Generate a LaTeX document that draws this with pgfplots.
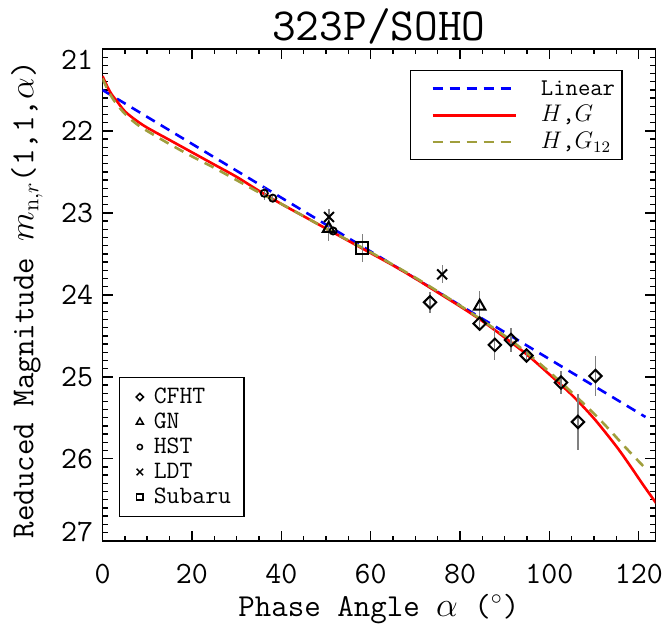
\documentclass[border=0pt]{standalone}
\usepackage{fontspec}
\usepackage{pgfplots}
\usepackage{pgfplotstable}
\pgfplotsset{compat=1.18}
\usetikzlibrary{calc}
\renewcommand{\familydefault}{\ttdefault}
\definecolor{olivec}{RGB}{160,158,60}
\newcommand\tickfont{\fontsize{15.5}{17}\selectfont\ttfamily}
\newcommand\labfont{\fontsize{16}{19}\selectfont\ttfamily}
\newcommand\titfont{\fontsize{23}{27}\selectfont\ttfamily}
\newcommand\legfontA{\fontsize{12}{14}\selectfont\ttfamily}
\newcommand\legfontB{\fontsize{12.5}{14}\selectfont\ttfamily}

\pgfplotstableread{
x y ey
73.3 24.09 0.13
84.4 24.35 0.07
87.8 24.61 0.19
91.4 24.55 0.15
94.9 24.74 0.06
102.6 25.07 0.14
106.4 25.55 0.34
110.3 24.99 0.24
}\cfht
\pgfplotstableread{
x y ey
50.6 23.19 0.15
84.4 24.14 0.19
}\gn
\pgfplotstableread{
x y ey
36.2 22.76 0.08
38.1 22.82 0.05
51.6 23.22 0.05
}\hst
\pgfplotstableread{
x y ey
50.7 23.05 0.10
76.0 23.75 0.11
}\ldt
\pgfplotstableread{
x y ey
58.1 23.43 0.17
}\subaru

\pgfplotsset{base/.style={
  width=276.4pt, height=245.85pt, scale only axis,
  xmin=0, xmax=123.7, ymin=21, ymax=27, y dir=reverse,
  xtick={0,20,...,120}, ytick={21,22,...,27},
  minor x tick num=3, minor y tick num=9,
  major tick length=5pt, minor tick length=2.5pt,
  tick style={line width=0.7pt, black},
  axis line style={line width=0.8pt},
  tick align=inside,
  /pgf/number format/assume math mode=true,
  ticklabel style={font=\tickfont},
  clip=true,
},
legmark/.style={legend image code/.code={\path (-4.85pt,0pt) (3pt,0pt);
  \draw[##1, mark size=#1, every mark/.append style={line width=0.75pt}] plot coordinates {(0pt,0pt)};}},
ebar/.style={error bars/.cd, y dir=both, y explicit, error mark=none,
  error bar style={gray, line width=0.6pt}},
}

\begin{document}
\begin{tikzpicture}
\begin{axis}[base, name=main,
  every axis title shift=0pt,
  title={323P/SOHO},
  title style={at={(axis description cs:0.5,1.0183)}, anchor=base, font=\titfont},
  xlabel={Phase Angle $\alpha$ ($^\circ$)},
  ylabel={Reduced Magnitude $m_{\mathrm{n},r}$(1,1,$\alpha$)},
  label style={font=\labfont},
  xlabel style={at={(axis description cs:0.5,-0.1546)}, anchor=base},
  ylabel style={at={(axis description cs:-0.1252,0.49)}, anchor=base},
  yticklabels={\smash{\raisebox{-10pt}{21}},22,23,24,25,26,\smash{\raisebox{-0.5pt}{27}}},
  yticklabel style={anchor=east, xshift=-1.2pt},
  xticklabel style={anchor=base, yshift=-21.2pt},
  legend style={at={(axis description cs:0.941,0.957)}, anchor=north east,
    draw=black, line width=0.6pt, font=\legfontA, inner xsep=2pt, inner ysep=2.2pt,
    row sep=0pt, nodes={inner sep=1.5pt, text height=8.5pt, text depth=1.85pt},
    /tikz/every odd column/.append style={column sep=10.5pt}},
  legend cell align=left,
  legend image code/.code={\path (-8.5pt,0pt) (0pt,0pt); \draw[#1] (0pt,0pt) -- (41.5pt,0pt);},
]
\addplot[blue, line width=1.3pt, dash pattern=on 5pt off 3.5pt] coordinates {(0,21.50) (121.5,25.49)};
\addlegendentry{\legfontA Linear}
\addplot[red, line width=1.3pt, smooth] coordinates {
(0,21.33) (1,21.45) (2,21.55) (3,21.62) (5,21.76) (7.5,21.87) (10,21.96) (15,22.11)
(20,22.26) (25,22.41) (30,22.56) (35,22.73) (40,22.89) (45,23.04) (50,23.19)
(55,23.34) (60,23.49) (65,23.64) (70,23.80) (75,23.97) (80,24.14) (85,24.32)
(90,24.52) (95,24.73) (100,24.97) (105,25.22) (110,25.51) (115,25.85) (118,26.08)
(121,26.32) (124,26.55)};
\addlegendentry{\legfontA $H$,$G$}
\addplot[olivec, line width=1.3pt, dash pattern=on 5pt off 3.5pt, smooth] coordinates {
(0,21.36) (1,21.48) (2,21.58) (3,21.66) (5,21.79) (7.5,21.91) (10,22.00) (15,22.16)
(20,22.31) (25,22.45) (30,22.60) (35,22.75) (40,22.89) (50,23.19) (60,23.48)
(70,23.79) (80,24.13) (90,24.50) (95,24.71) (100,24.94) (105,25.19) (110,25.45)
(113.5,25.65) (117,25.86) (121.7,26.13)};
\addlegendentry{\legfontA $H$,$G_{12}$}
\end{axis}
\begin{axis}[base, hide axis,
  legend style={at={(axis description cs:0.0298,0.048)}, anchor=south west,
    draw=black, line width=0.6pt, font=\legfontB, inner xsep=5pt, inner ysep=3.5pt,
    row sep=0pt, nodes={inner sep=1.5pt, text height=8pt, text depth=1.5pt},
    /tikz/every odd column/.append style={column sep=2.15pt}},
  legend cell align=left,
]
\addplot[only marks, mark=square, mark size=2.2pt, mark options={rotate=45, line width=1pt, black},
  legmark=1.3pt, ebar] table[x=x, y=y, y error=ey] {\cfht};
\addlegendentry{\legfontB CFHT}
\addplot[only marks, mark=triangle, mark size=3.3pt, mark options={line width=1pt, black},
  legmark=2pt, ebar] table[x=x, y=y, y error=ey] {\gn};
\addlegendentry{\legfontB GN}
\addplot[only marks, mark=o, mark size=1.8pt, mark options={line width=0.9pt, black},
  legmark=1.3pt, ebar] table[x=x, y=y, y error=ey] {\hst};
\addlegendentry{\legfontB HST}
\addplot[only marks, mark=x, mark size=3.5pt, mark options={line width=1pt, black},
  legmark=2.3pt, ebar] table[x=x, y=y, y error=ey] {\ldt};
\addlegendentry{\legfontB LDT}
\addplot[only marks, mark=square, mark size=3pt, mark options={line width=1pt, black},
  legmark=1.6pt, ebar] table[x=x, y=y, y error=ey] {\subaru};
\addlegendentry{\legfontB Subaru}
\end{axis}
\pgfresetboundingbox
\path ($(main.south west)+(-51.25pt,-43.15pt)$) rectangle ($(main.north east)+(3.85pt,24.5pt)$);
\end{tikzpicture}
\end{document}
